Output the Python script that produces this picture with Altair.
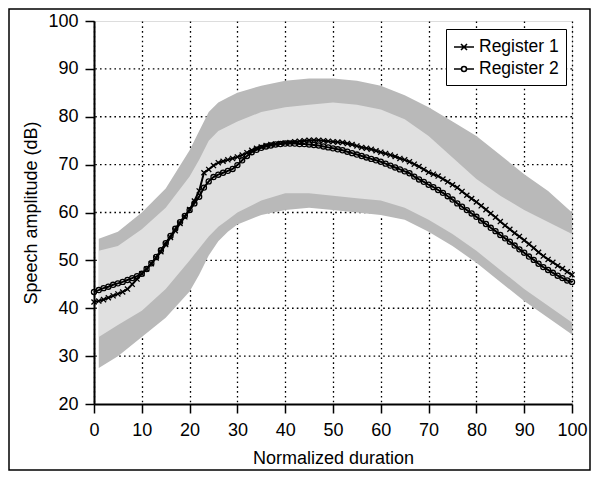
import altair as alt
import pandas as pd

FONT = "Liberation Sans"

# ---- data ----
x_vals = list(range(101))
reg1 = [41.3, 41.5, 41.8, 42.2, 42.6, 43.0, 43.4, 44.0, 45.0, 46.1,
        47.2, 48.2, 49.3, 50.5, 51.8, 53.3, 54.8, 56.2, 57.7, 59.1,
        60.6, 62.4, 64.5, 68.3, 69.0, 69.8, 70.4, 70.7, 71.0, 71.3,
        71.6, 72.0, 72.5, 73.0, 73.4, 73.7, 74.0, 74.2, 74.3, 74.4,
        74.5, 74.6, 74.8, 74.9, 75.0, 75.1, 75.1, 75.1, 75.0, 74.9,
        74.8, 74.7, 74.6, 74.4, 74.2, 73.9, 73.6, 73.4, 73.2, 72.9,
        72.6, 72.3, 72.0, 71.7, 71.3, 71.0, 70.6, 70.1, 69.6, 69.0,
        68.4, 68.0, 67.6, 67.0, 66.4, 65.8, 65.2, 64.4, 63.6, 62.9,
        62.2, 61.4, 60.6, 59.8, 59.0, 58.1, 57.3, 56.5, 55.7, 55.0,
        54.2, 53.4, 52.6, 51.7, 50.9, 50.2, 49.6, 48.9, 48.3, 47.6,
        47.0]
reg2 = [43.4, 43.8, 44.2, 44.5, 44.9, 45.2, 45.5, 45.9, 46.3, 46.7,
        47.2, 48.2, 49.4, 50.7, 52.1, 53.6, 55.1, 56.6, 58.0, 59.3,
        60.5, 61.9, 63.3, 65.2, 66.5, 67.4, 67.9, 68.3, 68.7, 69.1,
        69.9, 70.9, 71.8, 72.6, 73.1, 73.5, 73.8, 74.0, 74.2, 74.3,
        74.4, 74.4, 74.4, 74.3, 74.3, 74.2, 74.1, 74.0, 73.8, 73.6,
        73.4, 73.2, 73.0, 72.7, 72.4, 72.1, 71.8, 71.5, 71.2, 70.9,
        70.6, 70.2, 69.8, 69.4, 69.0, 68.6, 68.2, 67.5, 66.9, 66.4,
        65.8, 65.3, 64.7, 64.1, 63.4, 62.7, 61.9, 61.2, 60.5, 59.8,
        59.1, 58.3, 57.6, 56.8, 56.1, 55.3, 54.6, 53.9, 53.1, 52.3,
        51.6, 50.8, 50.1, 49.3, 48.6, 48.0, 47.4, 46.8, 46.3, 45.8,
        45.5]
series_names = ["Register 1", "Register 2"]

band_x = [1, 5, 10, 15, 20, 22, 24, 26, 28, 30, 35, 40, 45, 50, 55, 60,
          65, 70, 75, 80, 85, 90, 95, 100]
outer_top = [54.5, 56, 60, 65, 73, 77, 81, 83, 84, 85, 86.5, 87.5, 88, 88,
             87.5, 86.5, 84.5, 82, 79, 76, 72, 68, 64.5, 60]
inner_top = [52, 53, 56.5, 61, 67.5, 71, 75, 77, 78, 79, 81, 82, 82.5, 83,
             82.5, 81.5, 79.5, 76, 71.5, 67, 63.5, 60.5, 58, 55.5]
inner_bot = [34, 36.5, 39.5, 44, 50, 52.5, 55, 57, 58.5, 60, 62.5, 64, 64,
             63.5, 63, 62.5, 61, 58.5, 55.5, 52, 48, 44, 40.5, 37]
outer_bot = [27.5, 30, 34, 38, 43.5, 47, 51, 54, 56, 57.5, 59.5, 60.5, 61,
             60.5, 60, 59.5, 58.5, 56, 53, 49.5, 45.5, 41.5, 38, 34.5]

x_ticks = list(range(0, 101, 10))
y_ticks = list(range(20, 101, 10))
y_grid_ticks = list(range(30, 100, 10))

# ---- tables ----
lines_df = pd.DataFrame({
    "x": x_vals + x_vals,
    "y": reg1 + reg2,
    "series": [series_names[0]] * len(x_vals) + [series_names[1]] * len(x_vals),
})
band_df = pd.DataFrame({"x": band_x, "U": outer_top, "u": inner_top,
                        "l": inner_bot, "L": outer_bot})
legend_df = pd.DataFrame({"series": series_names, "x": [None, None], "y": [None, None]})

W, H = 478, 383
PL, PT, PR, PB = 86, 13, 19, 67

xscale = alt.Scale(domain=[0, 100], nice=False, zero=False)
yscale = alt.Scale(domain=[20, 100], nice=False, zero=False)

x_axis = alt.Axis(values=x_ticks, title="Normalized duration", format="d",
                  grid=True, gridColor="black", gridDash=[1.6, 3.2], gridWidth=1.3,
                  domainColor="black", domainWidth=2, tickColor="black",
                  tickSize=9, tickWidth=1.5, labelFont=FONT, labelFontSize=18,
                  labelColor="black", labelPadding=8, titleFont=FONT,
                  titleFontSize=18, titleFontWeight="normal", titleColor="black",
                  titlePadding=10, labelFlush=False)
y_axis = alt.Axis(values=y_ticks, title="Speech amplitude (dB)", format="d",
                  grid=False,
                  domainColor="black", domainWidth=2, tickColor="black",
                  tickSize=9, tickWidth=1.5, labelFont=FONT, labelFontSize=18,
                  labelColor="black", labelPadding=7, titleFont=FONT,
                  titleFontSize=18, titleFontWeight="normal", titleColor="black",
                  titlePadding=7, labelFlush=False)

outer = alt.Chart(band_df).mark_area(color="#b9b9b9", opacity=1).encode(
    x=alt.X("x:Q", scale=xscale, axis=x_axis),
    y=alt.Y("U:Q", scale=yscale, axis=y_axis),
    y2="L:Q",
)
inner = alt.Chart(band_df).mark_area(color="#e0e0e0", opacity=1).encode(
    x=alt.X("x:Q", scale=xscale),
    y=alt.Y("u:Q", scale=yscale),
    y2="l:Q",
)

# horizontal dotted grid (interior values only, so the frame stays solid)
ygrid = alt.Chart(pd.DataFrame({"g": y_grid_ticks})).mark_rule(
    color="black", strokeDash=[1.6, 3.2], strokeWidth=1.3
).encode(y=alt.Y("g:Q", scale=yscale))

lines = alt.Chart(lines_df).mark_line(color="black", strokeWidth=2).encode(
    x=alt.X("x:Q", scale=xscale),
    y=alt.Y("y:Q", scale=yscale),
    detail="series:N",
)

xpath = "M-1,-1L1,1M-1,1L1,-1"
leg_r1 = "M-1,0L1,0M-0.3,-0.3L0.3,0.3M-0.3,0.3L0.3,-0.3"
leg_r2 = "M-1,0L-0.25,0M0.25,0L1,0M0.25,0A0.25,0.25,0,1,1,-0.25,0A0.25,0.25,0,1,1,0.25,0"

points = alt.Chart(lines_df).mark_point(
    filled=False, color="black", strokeWidth=1.3, size=26, opacity=1
).encode(
    x=alt.X("x:Q", scale=xscale),
    y=alt.Y("y:Q", scale=yscale),
    shape=alt.Shape("series:N",
                    scale=alt.Scale(domain=series_names, range=[xpath, "circle"]),
                    legend=None),
)

legend = alt.Legend(
    title=None, orient="none", legendX=352, legendY=8, direction="vertical",
    strokeColor="black", fillColor="white", padding=7,
    labelFont=FONT, labelFontSize=17.5, labelColor="black", labelOffset=4,
    symbolSize=400, symbolStrokeWidth=1.6, symbolStrokeColor="black",
    symbolFillColor="transparent", symbolOpacity=1, rowPadding=2,
)
legend_layer = alt.Chart(legend_df).mark_point(
    filled=False, color="black", strokeWidth=1.6, size=400, opacity=1
).encode(
    x=alt.X("x:Q", scale=xscale),
    y=alt.Y("y:Q", scale=yscale),
    shape=alt.Shape("series:N",
                    scale=alt.Scale(domain=series_names, range=[leg_r1, leg_r2]),
                    legend=legend),
)

frame = alt.Chart(pd.DataFrame({"k": [0]})).mark_rect(
    fill="transparent", stroke="black", strokeWidth=1.5
).encode(
    x=alt.value(-PL + 1), x2=alt.value(W + PR - 1),
    y=alt.value(-PT + 1), y2=alt.value(H + PB - 1),
)

chart = alt.layer(ygrid, outer, inner, lines, points, legend_layer, frame).resolve_scale(
    shape="independent"
).properties(
    width=W, height=H,
    autosize=alt.AutoSizeParams(type="none"),
    padding={"left": PL, "top": PT, "right": PR, "bottom": PB},
).configure_view(stroke="black", strokeWidth=1.5).configure(background="white")

chart.save("out.html", embed_options={"renderer": "svg", "actions": False})
